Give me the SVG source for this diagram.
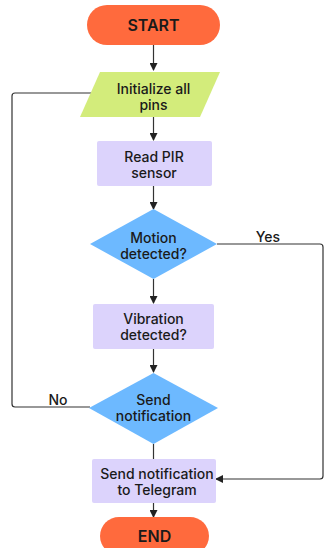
<svg xmlns="http://www.w3.org/2000/svg" width="325" height="548" viewBox="0 0 325 548">
<defs>
<marker id="ah" markerWidth="8" markerHeight="8" refX="7" refY="4" orient="auto" markerUnits="userSpaceOnUse">
<path d="M0,0 L8,4 L0,8 Z" fill="#222"/>
</marker>
<style>
.t{font-family:Inter,"Noto Sans",sans-serif;font-size:14px;font-weight:500;fill:#1a1a1a;text-anchor:middle;dominant-baseline:central}
.tb{font-family:Inter,"Noto Sans",sans-serif;font-size:16px;font-weight:600;fill:#1a1a1a;text-anchor:middle;dominant-baseline:central}
.c{fill:none;stroke:#333;stroke-width:1.2}
.term{fill:#FF6A3D}
.io{fill:#D3EC7B}
.proc{fill:#DCD3FC}
.dec{fill:#6DB9FF}
</style>
</defs>
<rect width="325" height="548" fill="#fff"/>
<g id="connectors">
<path class="c" d="M153.5,45 V70" marker-end="url(#ah)"/>
<path class="c" d="M153.5,117 V140" marker-end="url(#ah)"/>
<path class="c" d="M153.5,186 V209" marker-end="url(#ah)"/>
<path class="c" d="M153.5,279 V303" marker-end="url(#ah)"/>
<path class="c" d="M153.5,349 V372" marker-end="url(#ah)"/>
<path class="c" d="M153.5,444 V459"/>
<path class="c" d="M153.5,503 V517" marker-end="url(#ah)"/>
<path class="c" d="M217,244 H320 Q323,244 323,247 V476 Q323,479 320,479 H216" marker-end="url(#ah)"/>
<path class="c" d="M90,407 H15 Q12,407 12,404 V96 Q12,93 15,93 H91"/>
<text class="t" x="268" y="236">Yes</text>
<text class="t" x="58" y="399">No</text>
</g>
<g id="start">
<rect class="term" x="87" y="5" width="133" height="40" rx="20"/>
<text class="tb" x="153.5" y="25">START</text>
</g>
<g id="init">
<polygon class="io" points="100,72 220,72 200,117 80,117"/>
<text class="t" x="153.5" y="88.5">Initialize all</text>
<text class="t" x="153.5" y="104.5">pins</text>
</g>
<g id="read">
<rect class="proc" x="97" y="141" width="115" height="45" rx="2"/>
<text class="t" x="154" y="156">Read PIR</text>
<text class="t" x="154" y="172">sensor</text>
</g>
<g id="motion">
<polygon class="dec" points="153.5,209 217,244 153.5,279 90,244"/>
<text class="t" x="153.5" y="237">Motion</text>
<text class="t" x="153.5" y="253">detected?</text>
</g>
<g id="vibration">
<rect class="proc" x="93" y="304" width="121" height="45" rx="2"/>
<text class="t" x="153.5" y="318.5">Vibration</text>
<text class="t" x="153.5" y="334.5">detected?</text>
</g>
<g id="sendnotif">
<polygon class="dec" points="153.5,373 218,408 153.5,444 89,408"/>
<text class="t" x="153.5" y="399.5">Send</text>
<text class="t" x="153.5" y="415.5">notification</text>
</g>
<g id="telegram">
<rect class="proc" x="92" y="459" width="124" height="44" rx="2"/>
<text class="t" x="157" y="473.5">Send notification</text>
<text class="t" x="157" y="489.5">to Telegram</text>
</g>
<g id="end">
<rect class="term" x="100" y="517" width="109" height="38" rx="19"/>
<text class="tb" x="154.5" y="536">END</text>
</g>
</svg>
